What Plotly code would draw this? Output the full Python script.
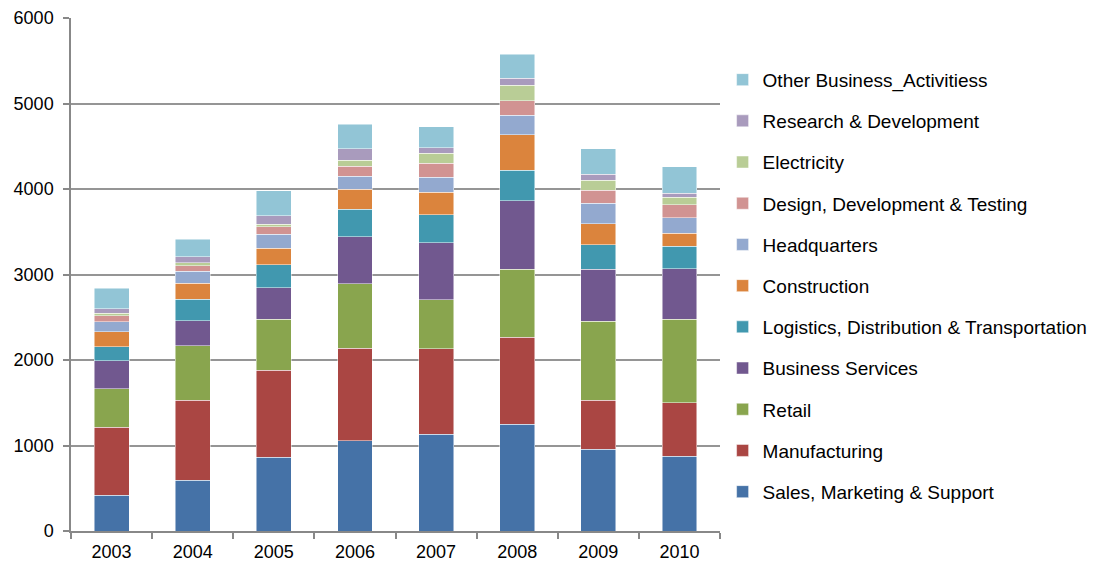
import plotly.graph_objects as go

years = ["2003", "2004", "2005", "2006", "2007", "2008", "2009", "2010"]

sales = [418, 593, 865, 1056, 1131, 1248, 955, 873]
manufacturing = [798, 939, 1018, 1084, 1001, 1021, 573, 628]
retail = [448, 632, 593, 753, 570, 792, 928, 975]
business_services = [328, 296, 370, 549, 670, 802, 605, 592]
logistics = [164, 253, 269, 320, 324, 356, 288, 261]
construction = [175, 184, 191, 238, 265, 415, 245, 152]
headquarters = [117, 140, 164, 148, 176, 227, 239, 184]
design = [70, 66, 89, 121, 163, 171, 152, 152]
electricity = [28, 32, 28, 70, 117, 183, 120, 89]
research = [54, 70, 101, 132, 66, 78, 70, 43]
other = [242, 210, 289, 289, 246, 285, 293, 312]

series = [
    ("Sales, Marketing & Support", sales, "#4572A7"),
    ("Manufacturing", manufacturing, "#AA4643"),
    ("Retail", retail, "#89A54E"),
    ("Business Services", business_services, "#71588F"),
    ("Logistics, Distribution & Transportation", logistics, "#4198AF"),
    ("Construction", construction, "#DB843D"),
    ("Headquarters", headquarters, "#93A9CF"),
    ("Design, Development & Testing", design, "#D19392"),
    ("Electricity", electricity, "#B9CD96"),
    ("Research & Development", research, "#A99BBD"),
    ("Other Business_Activitiess", other, "#92C5D6"),
]

fig = go.Figure()
n = len(series)
for i, (name, vals, color) in enumerate(series):
    fig.add_trace(go.Bar(
        x=years, y=vals, name=name, legendgroup=f"g{i:02d}",
        legendrank=100 + (n - i),
        marker=dict(color=color, line=dict(color="rgba(255,255,255,0.6)", width=0.8)),
    ))

fig.update_layout(
    barmode="stack",
    bargap=0.57,
    width=1088, height=560,
    margin=dict(l=63, r=376, t=10, b=37, autoexpand=False),
    paper_bgcolor="white", plot_bgcolor="white",
    font=dict(family="Liberation Sans, Arial", size=18, color="#000000"),
    legend=dict(
        traceorder="grouped",
        tracegroupgap=13.5,
        x=1.004, xanchor="left",
        y=0.478, yanchor="middle",
        font=dict(size=19),
        itemwidth=30,
        bgcolor="rgba(0,0,0,0)",
    ),
    xaxis=dict(
        automargin=False,
        showline=True, linecolor="#888888", linewidth=1.5,
        ticks="outside", tickson="boundaries", ticklen=6, tickcolor="#888888",
        tickwidth=1.5, ticklabelstandoff=4,
        tickfont=dict(size=18),
    ),
    yaxis=dict(
        automargin=False,
        range=[0, 6000], dtick=1000,
        showgrid=True, gridcolor="#959595", gridwidth=1.5,
        showline=True, linecolor="#888888", linewidth=1.5,
        ticks="outside", ticklen=6, tickcolor="#888888", tickwidth=1.5,
        ticklabelstandoff=6,
        tickfont=dict(size=18),
        zeroline=False,
    ),
)

fig.write_html("out.html")
